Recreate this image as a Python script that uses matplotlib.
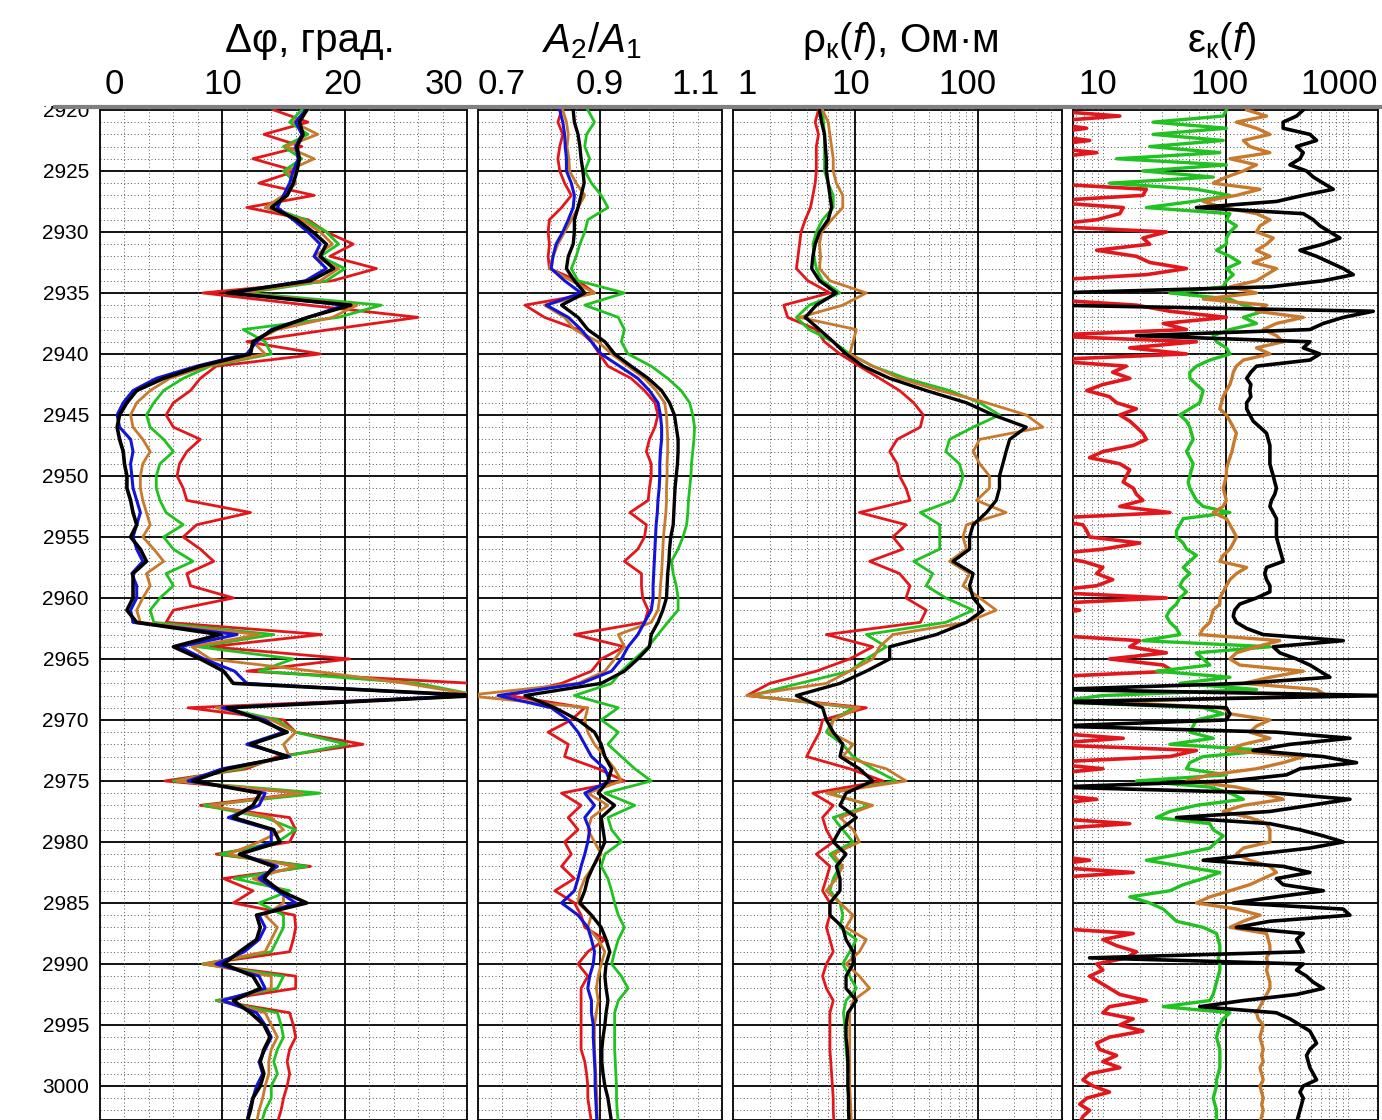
import numpy as np
import matplotlib.pyplot as plt
from matplotlib.lines import Line2D
from matplotlib.patches import Rectangle

plt.rcParams['font.family'] = ['Liberation Sans', 'DejaVu Sans']
plt.rcParams['mathtext.fontset'] = 'custom'
plt.rcParams['mathtext.rm'] = 'Liberation Sans'
plt.rcParams['mathtext.it'] = 'Liberation Sans:italic'
plt.rcParams['mathtext.bf'] = 'Liberation Sans:bold'

# depth grids
depth = np.arange(2920, 3004)              # 1 m step, tracks 1-3
depth_eps = np.arange(2920, 3003.5, 0.5)   # 0.5 m step, track 4

# ---- track 1: phase difference, degrees
dphi_red = [
    14.2, 17.0, 13.4, 16.5, 12.5, 16.0, 13.0, 17.5, 12.0, 17.0,
    18.5, 20.7, 18.8, 22.6, 19.0, 8.4, 17.0, 26.0, 18.8, 12.0,
    18.0, 9.5, 8.2, 7.4, 6.0, 5.4, 6.0, 8.2, 7.1, 6.5,
    6.3, 6.8, 7.1, 12.3, 7.9, 6.8, 8.2, 9.3, 7.1, 7.4,
    10.9, 6.0, 5.4, 18.1, 9.0, 20.4, 12.0, 30.5, 31.0, 7.2,
    15.0, 16.0, 21.5, 14.5, 12.0, 5.3, 16.5, 8.2, 15.5, 16.0,
    15.5, 9.5, 17.2, 10.1, 12.5, 10.9, 15.9, 16.0, 15.8, 15.5,
    8.4, 16.0, 16.0, 9.5, 15.5, 15.8, 16.0, 15.5, 15.3, 15.5,
    15.3, 15.0, 14.8, 14.5]
dphi_green = [
    16.5, 15.5, 17.0, 15.0, 16.5, 15.0, 16.0, 15.0, 14.0, 16.8,
    18.5, 19.5, 18.0, 20.0, 18.5, 12.0, 23.0, 19.5, 11.7, 13.5,
    14.0, 9.0, 6.8, 5.2, 4.4, 3.8, 4.1, 5.2, 6.0, 4.9,
    4.6, 4.6, 4.9, 5.4, 6.8, 5.2, 6.0, 7.6, 5.4, 6.0,
    4.9, 4.1, 4.4, 14.2, 8.0, 15.8, 13.0, 26.0, 31.0, 10.0,
    14.5, 16.0, 20.2, 15.0, 11.5, 6.0, 18.0, 8.5, 13.5, 16.0,
    14.5, 9.8, 16.9, 11.0, 15.5, 13.0, 15.0, 15.0, 14.5, 14.0,
    8.4, 15.0, 14.5, 9.5, 14.5, 14.8, 15.0, 14.5, 14.2, 14.5,
    14.0, 14.0, 13.5, 13.2]
dphi_orange = [
    17.0, 15.8, 17.8, 15.2, 17.5, 15.3, 16.0, 15.0, 13.5, 16.5,
    18.0, 19.0, 17.5, 19.5, 18.0, 11.5, 21.0, 19.0, 14.5, 12.5,
    13.5, 8.7, 5.7, 4.1, 3.0, 2.5, 2.7, 3.5, 4.1, 3.5,
    3.3, 3.3, 3.5, 3.8, 4.1, 3.5, 4.4, 5.2, 3.8, 4.1,
    3.5, 3.0, 3.3, 13.0, 7.5, 9.0, 17.5, 25.0, 31.0, 9.5,
    14.0, 16.0, 15.0, 15.5, 11.0, 6.3, 16.5, 9.0, 14.0, 15.0,
    13.0, 10.5, 16.0, 12.5, 15.0, 15.0, 13.5, 14.5, 14.0, 13.5,
    8.5, 14.0, 14.0, 9.8, 13.5, 14.0, 14.5, 14.0, 13.8, 13.8,
    13.5, 13.3, 13.0, 12.8]
dphi_blue = [
    16.8, 16.0, 16.5, 16.0, 16.2, 15.8, 15.5, 15.0, 14.5, 15.8,
    17.0, 18.0, 17.5, 18.5, 16.8, 10.8, 20.0, 17.0, 14.0, 12.8,
    12.0, 7.9, 4.6, 2.7, 1.9, 1.4, 1.6, 2.5, 2.7, 2.5,
    2.6, 2.7, 3.0, 3.3, 3.0, 2.7, 3.0, 3.5, 2.6, 3.0,
    3.0, 2.5, 2.7, 11.2, 6.5, 8.5, 11.0, 12.0, 30.0, 10.0,
    13.5, 15.0, 12.0, 15.5, 10.0, 7.2, 13.5, 13.0, 10.5, 14.0,
    14.0, 11.5, 14.5, 13.0, 14.5, 16.0, 13.0, 13.5, 13.0, 11.8,
    9.5, 13.0, 13.5, 10.0, 12.8, 13.5, 14.0, 13.5, 13.0, 13.3,
    12.8, 12.5, 12.2, 12.0]
dphi_black = [
    16.9, 16.3, 16.6, 16.1, 16.3, 16.1, 15.8, 15.3, 14.0, 16.1,
    17.4, 18.5, 18.0, 19.1, 17.2, 10.4, 20.5, 17.0, 14.2, 12.5,
    12.3, 8.2, 5.2, 3.0, 2.2, 1.6, 1.4, 1.6, 1.9, 2.0,
    2.2, 2.2, 2.5, 2.7, 3.0, 2.5, 3.3, 3.8, 2.7, 2.7,
    2.7, 2.2, 3.0, 9.8, 6.0, 8.2, 10.1, 10.9, 31.0, 10.4,
    13.1, 15.3, 12.3, 15.3, 10.4, 7.6, 13.1, 12.5, 10.9, 14.2,
    14.7, 11.4, 14.2, 13.4, 14.7, 16.9, 12.8, 13.1, 12.8, 11.4,
    10.1, 12.5, 13.1, 10.9, 12.3, 13.4, 13.9, 13.4, 13.1, 13.4,
    13.1, 12.5, 12.3, 12.0]

# ---- track 2: amplitude ratio A2/A1
amp_red = [
    0.837, 0.831, 0.839, 0.834, 0.831, 0.834, 0.842, 0.853, 0.837, 0.817,
    0.815, 0.817, 0.815, 0.817, 0.864, 0.891, 0.777, 0.809, 0.864, 0.886,
    0.899, 0.913, 0.951, 0.973, 0.990, 0.995, 0.990, 0.981, 0.976, 0.984,
    0.984, 0.981, 0.979, 0.949, 0.976, 0.973, 0.962, 0.940, 0.968, 0.968,
    0.970, 0.979, 0.973, 0.858, 0.940, 0.902, 0.886, 0.837, 0.750, 0.875,
    0.853, 0.815, 0.848, 0.842, 0.897, 0.940, 0.837, 0.869, 0.848, 0.864,
    0.842, 0.853, 0.837, 0.858, 0.826, 0.858, 0.869, 0.875, 0.908, 0.880,
    0.864, 0.880, 0.869, 0.869, 0.869, 0.869, 0.869, 0.869, 0.875, 0.878,
    0.880, 0.880, 0.883, 0.886]
amp_green = [
    0.880, 0.891, 0.878, 0.875, 0.883, 0.875, 0.886, 0.902, 0.913, 0.880,
    0.875, 0.867, 0.861, 0.853, 0.864, 0.940, 0.875, 0.930, 0.940, 0.935,
    0.946, 0.984, 1.011, 1.033, 1.047, 1.052, 1.055, 1.054, 1.052, 1.050,
    1.049, 1.047, 1.045, 1.044, 1.042, 1.036, 1.028, 1.017, 1.020, 1.025,
    1.028, 1.028, 1.011, 0.995, 0.979, 0.957, 0.935, 0.919, 0.858, 0.930,
    0.902, 0.930, 0.913, 0.935, 0.957, 0.984, 0.908, 0.957, 0.913, 0.919,
    0.935, 0.908, 0.902, 0.913, 0.919, 0.924, 0.930, 0.940, 0.930, 0.924,
    0.919, 0.935, 0.946, 0.930, 0.924, 0.924, 0.924, 0.924, 0.925, 0.926,
    0.927, 0.927, 0.928, 0.930]
amp_orange = [
    0.839, 0.845, 0.848, 0.846, 0.849, 0.850, 0.861, 0.875, 0.864, 0.853,
    0.842, 0.831, 0.823, 0.817, 0.853, 0.891, 0.809, 0.842, 0.858, 0.897,
    0.919, 0.946, 0.973, 0.992, 1.006, 1.009, 1.010, 1.011, 1.011, 1.010,
    1.010, 1.009, 1.009, 1.008, 1.006, 1.004, 1.003, 1.002, 1.001, 0.999,
    0.998, 0.995, 0.984, 0.930, 0.940, 0.924, 0.908, 0.864, 0.680, 0.880,
    0.875, 0.880, 0.891, 0.908, 0.924, 0.935, 0.880, 0.913, 0.886, 0.880,
    0.891, 0.902, 0.889, 0.875, 0.867, 0.864, 0.886, 0.880, 0.897, 0.908,
    0.902, 0.897, 0.894, 0.897, 0.894, 0.891, 0.891, 0.891, 0.892, 0.893,
    0.894, 0.895, 0.895, 0.896]
amp_blue = [
    0.834, 0.839, 0.842, 0.843, 0.845, 0.845, 0.853, 0.858, 0.856, 0.848,
    0.839, 0.828, 0.823, 0.820, 0.842, 0.869, 0.812, 0.848, 0.869, 0.886,
    0.902, 0.932, 0.962, 0.981, 0.995, 0.999, 1.001, 1.001, 0.999, 0.998,
    0.998, 0.997, 0.995, 0.994, 0.992, 0.991, 0.990, 0.989, 0.988, 0.987,
    0.987, 0.984, 0.973, 0.962, 0.946, 0.935, 0.919, 0.869, 0.733, 0.820,
    0.848, 0.864, 0.875, 0.886, 0.908, 0.916, 0.875, 0.891, 0.875, 0.883,
    0.880, 0.875, 0.869, 0.864, 0.858, 0.837, 0.864, 0.880, 0.886, 0.891,
    0.889, 0.883, 0.880, 0.886, 0.886, 0.889, 0.889, 0.890, 0.891, 0.892,
    0.892, 0.893, 0.894, 0.895]
amp_black = [
    0.856, 0.858, 0.864, 0.867, 0.869, 0.872, 0.874, 0.869, 0.864, 0.858,
    0.858, 0.856, 0.848, 0.845, 0.858, 0.875, 0.837, 0.864, 0.880, 0.908,
    0.924, 0.951, 0.979, 1.001, 1.014, 1.022, 1.025, 1.028, 1.028, 1.027,
    1.025, 1.023, 1.022, 1.021, 1.020, 1.016, 1.014, 1.013, 1.011, 1.010,
    1.009, 1.003, 0.995, 0.984, 0.981, 0.962, 0.940, 0.902, 0.777, 0.826,
    0.864, 0.891, 0.902, 0.908, 0.919, 0.913, 0.897, 0.924, 0.902, 0.905,
    0.908, 0.899, 0.889, 0.880, 0.875, 0.867, 0.886, 0.902, 0.910, 0.916,
    0.910, 0.908, 0.910, 0.913, 0.910, 0.908, 0.905, 0.903, 0.903, 0.905,
    0.908, 0.913, 0.916, 0.919]

# ---- track 3: apparent resistivity, Ohm*m
rho_red = [
    5.0, 4.7, 5.0, 4.8, 4.8, 4.8, 4.7, 4.5, 4.3, 3.9,
    3.6, 3.5, 3.4, 3.3, 4.1, 6.2, 2.6, 2.8, 4.8, 5.6,
    7.5, 10.8, 15.8, 23, 30, 36, 34, 22, 19.1, 22,
    23, 26, 28, 10.8, 26, 20.3, 24.5, 13.1, 23, 28,
    26, 38, 34, 5.8, 13.9, 9.0, 4.8, 2.0, 1.3, 12.3,
    5.4, 5.1, 4.5, 4.0, 9.0, 16.8, 4.5, 6.6, 5.4, 5.8,
    6.6, 4.8, 6.2, 5.8, 5.4, 6.2, 6.2, 5.8, 6.2, 6.6,
    5.8, 5.4, 5.8, 6.6, 6.2, 6.2, 6.2, 6.2, 6.3, 6.4,
    6.5, 6.6, 6.6, 6.7]
rho_green = [
    5.4, 5.5, 5.6, 5.6, 5.6, 5.6, 6.0, 6.6, 6.6, 5.4,
    4.8, 4.5, 4.6, 4.8, 5.4, 7.5, 4.2, 3.3, 4.2, 6.6,
    9.0, 13.9, 26, 59, 104, 151, 92, 59, 55, 71,
    76, 71, 63, 34, 49, 49, 49, 30, 43, 38,
    55, 92, 55, 12.3, 17.9, 12.3, 9.0, 3.5, 1.4, 9.6,
    6.6, 5.8, 7.9, 9.6, 13.9, 21.6, 6.2, 13.1, 6.6, 7.9,
    9.6, 6.2, 7.5, 6.6, 6.2, 7.5, 7.9, 7.5, 10.2, 9.0,
    7.9, 9.0, 10.2, 8.4, 8.0, 8.2, 8.3, 8.4, 8.6, 8.7,
    8.7, 8.8, 8.8, 8.9]
rho_orange = [
    5.4, 6.0, 6.2, 6.4, 6.6, 6.6, 7.0, 7.9, 7.9, 6.4,
    5.3, 5.1, 5.2, 5.1, 6.2, 12.3, 7.9, 3.5, 10.2, 9.6,
    9.0, 13.9, 23, 49, 118, 250, 342, 104, 92, 104,
    125, 125, 98, 171, 81, 76, 81, 59, 86, 76,
    104, 142, 81, 20.3, 15.8, 13.9, 9.0, 5.8, 1.3, 10.8,
    6.6, 6.2, 9.6, 7.9, 17.9, 26, 5.8, 13.9, 7.5, 9.6,
    10.8, 6.6, 7.9, 7.0, 5.8, 7.5, 9.6, 8.4, 12.3, 10.8,
    8.4, 10.8, 13.1, 9.6, 9.0, 9.0, 9.0, 9.0, 9.0, 9.0,
    9.0, 9.1, 9.2, 9.3]
rho_black = [
    5.1, 5.3, 5.6, 5.7, 5.8, 5.8, 6.0, 6.2, 6.4, 6.0,
    5.1, 4.7, 4.5, 4.4, 5.1, 7.0, 4.8, 3.9, 5.1, 6.6,
    8.4, 11.6, 19.1, 38, 81, 134, 250, 183, 171, 161,
    151, 151, 142, 118, 92, 86, 86, 63, 92, 86,
    92, 111, 81, 46, 19.1, 19.1, 12.3, 7.5, 3.3, 5.4,
    5.8, 6.6, 7.9, 7.5, 10.8, 13.9, 8.4, 7.5, 10.2, 7.5,
    6.6, 8.4, 7.0, 7.5, 7.5, 6.2, 6.2, 7.9, 8.4, 9.6,
    9.6, 8.4, 8.4, 10.2, 8.7, 8.4, 8.4, 8.6, 8.7, 8.7,
    8.7, 8.8, 8.8, 8.9]

# ---- track 4: apparent permittivity (0.5 m step)
eps_red = [
    3, 13.6, 3, 7.3, 3, 7.7, 3, 8.8, 3, 3,
    3, 3, 3, 22.4, 21.0, 3, 14.5, 13.6, 8.8, 3,
    32.7, 21.0, 23.9, 8.8, 18.6, 23.9, 47.7, 22.4, 3, 3,
    3, 3, 18.6, 34.9, 101, 30.8, 47.7, 3, 57.5, 16.4,
    47.7, 3, 15.4, 11.9, 16.4, 9.9, 7.3, 11.2, 12.8, 18.6,
    13.6, 16.4, 18.6, 21.0, 22.4, 17.5, 9.9, 7.7, 13.6, 16.4,
    15.4, 14.5, 17.5, 18.6, 21.0, 13.6, 34.9, 3, 6.8, 7.3,
    7.7, 19.8, 9.9, 3, 6.8, 9.9, 8.8, 11.9, 8.8, 3,
    32.7, 3, 6.4, 3, 3, 3, 3, 19.8, 16.4, 32.7,
    11.2, 30.8, 37.1, 3, 3, 3, 3, 3, 3, 3,
    3, 3, 3, 14.5, 3, 57.5, 34.9, 3, 9.9, 3,
    3, 3, 3, 8.8, 3, 3, 3, 16.4, 3, 3,
    3, 3, 3, 7.7, 3, 17.5, 3, 3, 3, 3,
    3, 3, 3, 3, 3, 17.5, 9.9, 12.8, 18.6, 15.4,
    8.8, 9.9, 7.7, 9.3, 11.2, 13.6, 22.4, 11.2, 9.9, 17.5,
    13.6, 21.0, 11.2, 8.8, 9.3, 12.8, 9.9, 13.6, 7.7, 6.8,
    8.2, 11.2, 7.3, 6.4, 7.7, 6.8, 6.4]
eps_green = [
    101, 95.1, 25.4, 101, 25.4, 95.1, 23.9, 89.3, 12.8, 101,
    21.0, 78.8, 11.2, 57.5, 108, 54.1, 22.4, 108, 101, 122,
    108, 101, 101, 83.9, 108, 130, 101, 115, 101, 95.1,
    34.9, 108, 139, 202, 139, 178, 108, 78.8, 83.9, 101,
    108, 74.0, 57.5, 50.8, 50.8, 57.5, 65.3, 63.2, 61.2, 50.8,
    42.1, 47.7, 50.8, 52.4, 54.1, 50.8, 47.7, 50.8, 54.1, 52.4,
    50.8, 49.2, 50.8, 54.1, 57.5, 65.3, 108, 44.8, 42.1, 39.5,
    39.5, 44.8, 47.7, 57.5, 50.8, 44.8, 50.8, 44.8, 42.1, 47.7,
    42.1, 39.5, 34.9, 32.7, 34.9, 39.5, 42.1, 21.0, 229, 57.5,
    65.3, 74.0, 27.1, 108, 42.1, 178, 9.9, 4, 65.3, 95.1,
    57.5, 54.1, 50.8, 78.8, 34.9, 229, 65.3, 50.8, 47.7, 101,
    18.6, 74.0, 108, 139, 57.5, 34.9, 27.1, 74.0, 78.8, 95.1,
    83.9, 74.0, 42.1, 22.4, 44.8, 89.3, 65.3, 44.8, 34.9, 16.4,
    23.9, 30.8, 34.9, 39.5, 65.3, 83.9, 86.6, 89.3, 89.3, 86.6,
    89.3, 89.3, 86.6, 83.9, 81.3, 78.8, 74.0, 30.8, 108, 95.1,
    89.3, 86.6, 83.9, 86.6, 89.3, 89.3, 89.3, 89.3, 86.6, 83.9,
    83.9, 81.3, 78.8, 81.3, 83.9, 83.9, 83.9]
eps_orange = [
    148, 215, 122, 178, 229, 139, 157, 229, 108, 178,
    139, 101, 78.8, 190, 122, 65.3, 95.1, 178, 229, 190,
    178, 244, 215, 178, 229, 167, 259, 215, 178, 108,
    178, 65.3, 215, 178, 429, 259, 202, 259, 294, 178,
    229, 139, 122, 115, 112, 108, 101, 95.1, 92, 89.3,
    101, 108, 115, 122, 118, 115, 112, 108, 104, 101,
    101, 98, 95.1, 98, 101, 95.1, 78.8, 101, 108, 115,
    122, 115, 108, 95.1, 89.3, 148, 122, 108, 101, 95.1,
    89.3, 89.3, 78.8, 76.4, 74.0, 65.3, 61.2, 276, 178, 122,
    108, 130, 429, 229, 139, 551, 665, 9.9, 95.1, 108,
    229, 178, 157, 229, 139, 101, 429, 294, 178, 74.0,
    47.7, 122, 202, 294, 139, 95.1, 157, 215, 229, 229,
    229, 139, 122, 157, 229, 259, 202, 157, 108, 74.0,
    57.5, 122, 190, 139, 108, 215, 222, 229, 229, 215,
    222, 215, 222, 229, 229, 215, 202, 190, 178, 184,
    202, 196, 190, 196, 202, 196, 202, 190, 196, 202,
    190, 196, 202, 196, 202, 196, 190]
eps_black = [
    429, 378, 294, 294, 486, 551, 378, 429, 403, 334,
    456, 518, 625, 754, 429, 259, 57.5, 429, 518, 587,
    708, 855, 625, 403, 551, 708, 910, 1099, 625, 229,
    4, 4, 4, 1601, 910, 625, 486, 18.6, 486, 429,
    587, 486, 178, 160, 148, 160, 157, 160, 148, 148,
    157, 167, 190, 215, 222, 229, 229, 229, 229, 236,
    244, 251, 259, 251, 236, 229, 244, 259, 259, 259,
    259, 267, 276, 285, 294, 215, 208, 215, 229, 229,
    178, 130, 118, 115, 122, 148, 202, 910, 244, 276,
    378, 486, 587, 708, 139, 4, 2000, 4, 101, 108,
    101, 4, 259, 1032, 334, 167, 625, 1170, 403, 313,
    108, 4, 259, 1032, 486, 229, 39.5, 229, 403, 625,
    910, 486, 178, 65.3, 294, 486, 259, 294, 625, 259,
    115, 910, 1032, 229, 122, 429, 378, 403, 429, 7.7,
    429, 378, 456, 518, 625, 378, 139, 61.2, 259, 334,
    403, 486, 518, 551, 486, 456, 471, 486, 518, 551,
    429, 403, 429, 416, 403, 390, 378]

C_RED, C_GREEN, C_ORANGE, C_BLUE, C_BLACK = '#e3171b', '#1fc21f', '#c8792c', '#1414d8', '#000000'

W, H = 1382, 1120
fig = plt.figure(figsize=(W / 100, H / 100), dpi=100)
fig.patch.set_facecolor('white')

TOP_PX = 108
YLIM = (3002.79, 2919.84)


def make_track(x0, x1, xlim, log, major, minor):
    ax = fig.add_axes([x0 / W, 0, (x1 - x0) / W, (H - TOP_PX) / H])
    if log:
        ax.set_xscale('log')
    ax.set_xlim(*xlim)
    ax.set_ylim(*YLIM)
    for d in range(2920, 3003):
        if d % 5 == 0:
            ax.axhline(d, color='black', lw=1.3, zorder=1)
        else:
            ax.axhline(d, color='#555555', lw=0.7, ls=(0, (1, 2.5)), zorder=1)
    for v in minor:
        ax.axvline(v, color='#555555', lw=0.7, ls=(0, (1, 2.5)), zorder=1)
    for v in major:
        ax.axvline(v, color='black', lw=1.3, zorder=1)
    ax.set_xticks([])
    ax.minorticks_off()
    ax.set_yticks(np.arange(2920, 3001, 5))
    ax.tick_params(axis='y', length=0, labelleft=False)
    for s in ax.spines.values():
        s.set_linewidth(1.3)
    return ax


def top_labels(ax, specs):
    for val, txt, ha, dx in specs:
        ax.annotate(txt, xy=(val, 1), xycoords=('data', 'axes fraction'),
                    xytext=(dx, 23), textcoords='offset pixels',
                    ha=ha, va='center', fontsize=25, annotation_clip=False)


# track 1
ax1 = make_track(100, 467, (0, 30), False, [10, 20],
                 [v for v in range(2, 30, 2) if v % 10])
for vals, c, lw in [(dphi_red, C_RED, 2.0), (dphi_green, C_GREEN, 2.0),
                    (dphi_orange, C_ORANGE, 2.0), (dphi_blue, C_BLUE, 2.2),
                    (dphi_black, C_BLACK, 2.6)]:
    ax1.plot(vals, depth, color=c, lw=lw, zorder=3)
ax1.tick_params(axis='y', labelleft=True, labelsize=15, pad=8)
top_labels(ax1, [(0, '0', 'left', 5), (10, '10', 'center', 0),
                 (20, '20', 'center', -2), (30, '30', 'right', -4)])

# track 2
ax2 = make_track(478, 722, (0.7, 1.1), False, [0.9],
                 [0.74, 0.78, 0.82, 0.86, 0.94, 0.98, 1.02, 1.06])
for vals, c, lw in [(amp_red, C_RED, 2.0), (amp_green, C_GREEN, 2.0),
                    (amp_orange, C_ORANGE, 2.0), (amp_blue, C_BLUE, 2.2),
                    (amp_black, C_BLACK, 2.4)]:
    ax2.plot(vals, depth, color=c, lw=lw, zorder=3)
top_labels(ax2, [(0.7, '0.7', 'left', 0), (0.9, '0.9', 'center', 0),
                 (1.1, '1.1', 'right', -2)])

# track 3
rho_minor = [m * 10 ** k for k in range(0, 3) for m in range(2, 10) if m * 10 ** k < 490]
ax3 = make_track(733, 1062, (1, 490), True, [10, 100], rho_minor)
for vals, c, lw in [(rho_red, C_RED, 2.0), (rho_green, C_GREEN, 2.0),
                    (rho_orange, C_ORANGE, 2.0), (rho_black, C_BLACK, 2.4)]:
    ax3.plot(vals, depth, color=c, lw=lw, zorder=3)
top_labels(ax3, [(1, '1', 'left', 4), (10, '10', 'center', -5),
                 (100, '100', 'center', -10)])

# track 4
eps_minor = [m * 10 ** k for k in range(0, 4) for m in range(1, 10)
             if 5.7 < m * 10 ** k < 1750 and m * 10 ** k != 100]
ax4 = make_track(1073, 1378, (5.64, 1750), True, [100], eps_minor)
for vals, c, lw in [(eps_red, C_RED, 2.6), (eps_green, C_GREEN, 2.4),
                    (eps_orange, C_ORANGE, 2.4), (eps_black, C_BLACK, 2.6)]:
    ax4.plot(vals, depth_eps, color=c, lw=lw, zorder=3)
top_labels(ax4, [(10, '10', 'center', -6), (100, '100', 'center', -6),
                 (1750, '1000', 'right', 0)])

# titles
for x, txt in [(310, 'Δφ, град.'), (592, r'$A_2/A_1$'),
               (900, r'ρ$_\mathrm{к}$($f$), Ом·м'), (1222, r'ε$_\mathrm{к}$($f$)')]:
    fig.text(x / W, 1 - 52 / H, txt, ha='center', va='baseline', fontsize=29)

# top border and hidden top of the first depth label
fig.add_artist(Rectangle((0, 1 - 106 / H), 98 / W, 106 / H, transform=fig.transFigure,
                         facecolor='white', edgecolor='none', zorder=1))
fig.add_artist(Line2D([55 / W, 1], [1 - 107 / H, 1 - 107 / H], transform=fig.transFigure,
                      color='#808080', lw=3, zorder=2))

fig.savefig('out.png', dpi=100, facecolor='white')
